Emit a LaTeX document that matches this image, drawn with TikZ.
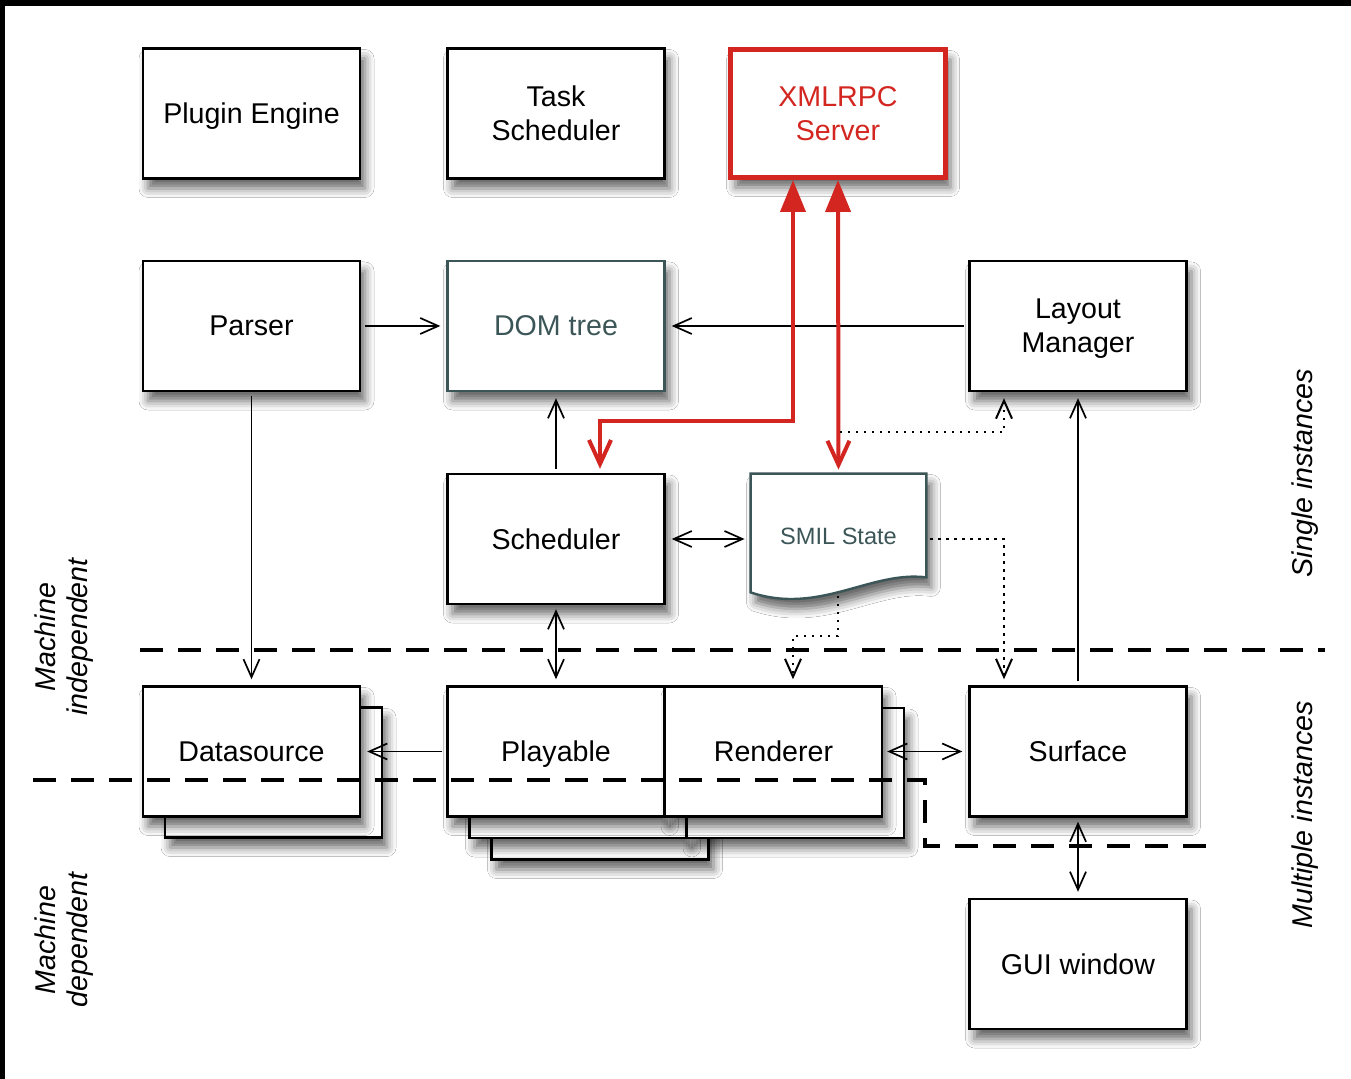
\documentclass[tikz,border=0pt]{standalone}
\usepackage{fontspec}
\setmainfont{Liberation Sans}
\usetikzlibrary{arrows.meta,shadows.blur,calc}
\definecolor{rpcred}{RGB}{211,38,32}
\definecolor{domslate}{RGB}{60,86,88}
\begin{document}
\begin{tikzpicture}
  [x=0.5pt,y=-0.5pt,>={Straight Barb[length=9pt,width=8pt]},
   every node/.style={font=\fontsize{14.3}{17}\selectfont},
   boxshadow/.style={blur shadow={shadow xshift=2.5pt,shadow yshift=-5pt,shadow blur radius=4.5pt,shadow opacity=60}},
   box/.style={draw,line width=1.2pt,fill=white,minimum width=108.5pt,minimum height=65pt,inner sep=0pt,align=center,text depth=0pt,boxshadow},
   conn/.style={line width=0.85pt,shorten >=3pt},
   redlink/.style={draw=rpcred,line width=2pt,arrows={Triangle[length=16pt,width=12.5pt]-Straight Barb[length=12pt,width=11pt]},shorten >=2pt},
   dotlink/.style={line width=1pt,dash pattern=on 1.2pt off 2.8pt,->,shorten >=3pt},
   split/.style={line width=2pt,dash pattern=on 11.5pt off 7.5pt},
   side/.style={font=\fontsize{14.3}{16}\selectfont\itshape,rotate=90,align=center}]
  \useasboundingbox (0,0) rectangle (1351,1079);
  \fill[white] (0,0) rectangle (1351,1079);
  \fill[black] (0,0) rectangle (1351,6);
  \fill[black] (0,0) rectangle (5,1079);

  % top row
  \node[box] (plugin) at (251.5,113.5) {Plugin Engine};
  \node[box] (task) at (556,113.5) {Task\\Scheduler};
  \node[box,draw=rpcred,line width=2.5pt,text=rpcred,minimum width=107.5pt,minimum height=64pt] (xmlrpc) at (838,113.5) {XMLRPC\\Server};

  % middle rows
  \node[box] (parser) at (251.5,326) {Parser};
  \node[box,draw=domslate,text=domslate] (dom) at (556,326) {DOM tree};
  \node[box] (layout) at (1078,326) {Layout\\Manager};
  \node[box] (sched) at (556,539) {Scheduler};
  \node[minimum width=87.5pt,minimum height=62pt,inner sep=0pt] (smil) at (838.5,536) {};
  \draw[domslate,line width=1.2pt,fill=white,boxshadow] (smil.north west) -- (smil.north east)
    -- ($(smil.south east)+(0,-21)$)
    .. controls ($(smil.south east)+(-56,-28)$) and ($(smil.south west)+(69,17)$) .. ($(smil.south west)+(0,-6)$)
    -- cycle;
  \node[font=\fontsize{11.8}{14}\selectfont,text=domslate] at (smil.center) {SMIL State};

  % stacked instances
  \node[box] (dsback) at (273.5,772.5) {};
  \node[box] (datasource) at (251.5,751.5) {Datasource};
  \node[box] (playback2) at (600,794.5) {};
  \node[box] (playback1) at (578,773) {};
  \node[box] (rendback) at (795.5,773) {};
  \node[box] (playable) at (556,751.5) {Playable};
  \node[box] (renderer) at (773.5,751.5) {Renderer};
  \node[box] (surface) at (1078,751.5) {Surface};
  \node[box] (gui) at (1078,964) {GUI window};

  % plain links
  \foreach \from/\to/\tip in {parser/dom/->,layout/dom/->,sched/dom/->,parser/datasource/->,
    playable/datasource/->,surface/layout/->,sched/playable/<->,renderer/surface/<->,surface/gui/<->}
    \draw[conn,\tip,shorten <=2pt] (\from) -- (\to);
  \draw[conn,<->,shorten <=3pt] (sched.east) -- (sched.east -| smil.west);

  % xmlrpc links
  \coordinate (bend) at (600,421);
  \draw[redlink] ([xshift=-22.5pt]xmlrpc.south) |- (bend) -- ([xshift=22pt]sched.north);
  \draw[redlink] (xmlrpc.south) -- (smil.north);

  % state notifications
  \coordinate (tap) at (840,432);
  \coordinate (foot) at (838,596);
  \coordinate (kink) at (793,636);
  \draw[dotlink] (tap) -| ([xshift=-37pt]layout.south);
  \draw[dotlink] ([xshift=2pt]smil.east |- sched.east) -| ([xshift=-37pt]surface.north);
  \draw[dotlink] (foot) |- (kink) -- ([xshift=9.75pt]renderer.north);

  % boundaries
  \draw[split] (140,650) -- (1325,650);
  \draw[split] (33,780) -- (925,780) -- (925,846) -- (1210,846);

  \node[side] (indep) at (64,637) {Machine\\independent};
  \node[side] (dep) at (64,940) {Machine\\dependent};
  \node[side] (single) at (1305,473) {Single instances};
  \node[side] (multi) at (1305,815) {Multiple instances};
\end{tikzpicture}
\end{document}
